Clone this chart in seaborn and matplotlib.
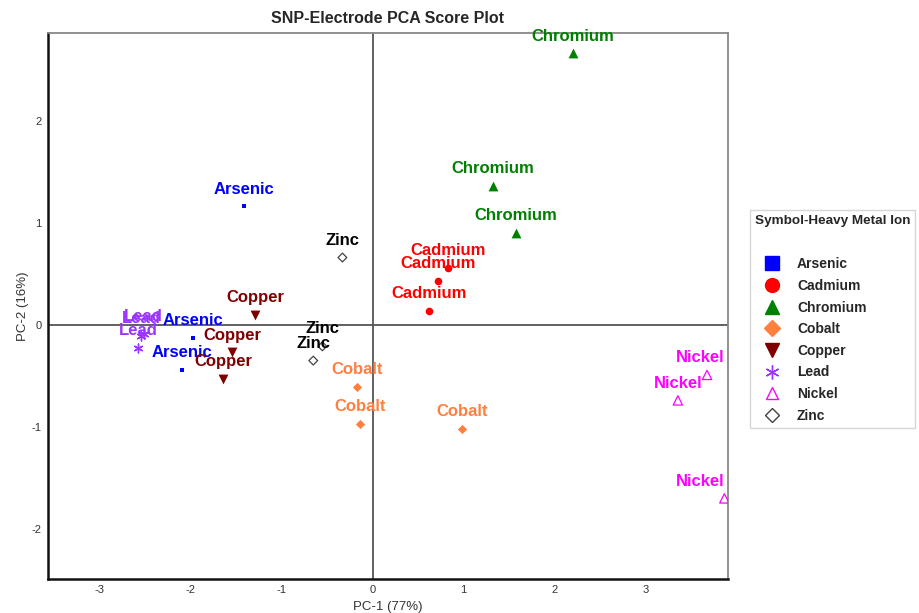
import matplotlib
matplotlib.use("Agg")
import matplotlib.pyplot as plt
from matplotlib.lines import Line2D
from matplotlib.ticker import MultipleLocator
import seaborn as sns
import pandas as pd

# ---- data ----
ions = ["Arsenic", "Cadmium", "Chromium", "Cobalt", "Copper", "Lead", "Nickel", "Zinc"]
arsenic_pc1 = [-1.41, -1.97, -2.09]
arsenic_pc2 = [1.16, -0.13, -0.44]
cadmium_pc1 = [0.83, 0.72, 0.62]
cadmium_pc2 = [0.56, 0.43, 0.14]
chromium_pc1 = [2.20, 1.32, 1.57]
chromium_pc2 = [2.66, 1.36, 0.90]
cobalt_pc1 = [-0.17, -0.14, 0.98]
cobalt_pc2 = [-0.61, -0.97, -1.02]
copper_pc1 = [-1.29, -1.54, -1.64]
copper_pc2 = [0.10, -0.27, -0.53]
lead_pc1 = [-2.57, -2.54, -2.51]
lead_pc2 = [-0.23, -0.11, -0.09]
nickel_pc1 = [3.67, 3.35, 3.86]
nickel_pc2 = [-0.49, -0.74, -1.70]
zinc_pc1 = [-0.33, -0.55, -0.65]
zinc_pc2 = [0.66, -0.21, -0.35]

pc1 = [arsenic_pc1, cadmium_pc1, chromium_pc1, cobalt_pc1, copper_pc1, lead_pc1, nickel_pc1, zinc_pc1]
pc2 = [arsenic_pc2, cadmium_pc2, chromium_pc2, cobalt_pc2, copper_pc2, lead_pc2, nickel_pc2, zinc_pc2]

rows = []
for name, xs, ys in zip(ions, pc1, pc2):
    for x, y in zip(xs, ys):
        rows.append({"ion": name, "pc1": x, "pc2": y})
df = pd.DataFrame(rows)

# ---- styles ----
colors = {"Arsenic": "#0000FF", "Cadmium": "#FF0000", "Chromium": "#008000",
          "Cobalt": "#FF7F3F", "Copper": "#800000", "Lead": "#9933FF",
          "Nickel": "#FF00FF", "Zinc": "#000000"}
markers = {"Arsenic": "s", "Cadmium": "o", "Chromium": "^", "Cobalt": "D",
           "Copper": "v", "Lead": (6, 2, 0), "Nickel": "^", "Zinc": "D"}
sizes = {"Arsenic": 12, "Cadmium": 30, "Chromium": 50, "Cobalt": 22,
         "Copper": 50, "Lead": 40, "Nickel": 45, "Zinc": 20}
open_m = {"Nickel", "Zinc"}

sns.set_theme(style="white")
plt.rcParams["font.family"] = ["Liberation Sans", "DejaVu Sans"]
plt.rcParams["axes.unicode_minus"] = False

fig = plt.figure(figsize=(9.2, 6.13), dpi=100)
ax = fig.add_axes([48 / 920, 1 - 579 / 613, 680 / 920, 546 / 613])

ax.axhline(0, color="#555555", lw=1.3, zorder=1)
ax.axvline(0, color="#555555", lw=1.3, zorder=1)

for name in ions:
    sub = df[df["ion"] == name]
    c = colors[name]
    lw = 0.9 if name in open_m else (1.0 if name == "Lead" else 0)
    ecol = "#444444" if name == "Zinc" else c
    sns.scatterplot(data=sub, x="pc1", y="pc2", marker=markers[name], s=sizes[name],
                    color=c, edgecolor=ecol, linewidth=lw, ax=ax, legend=False, zorder=3)
    if name in open_m:
        ax.collections[-1].set_facecolor("none")

ax.set_xlim(-3.56, 3.90)
ax.set_ylim(-2.49, 2.86)

texts = []
for _, r in df.iterrows():
    t = ax.annotate(r["ion"], (r["pc1"], r["pc2"]), xytext=(0, 12.5), textcoords="offset points",
                    ha="center", va="center", fontsize=12, fontweight="bold",
                    color=colors[r["ion"]], zorder=4)
    texts.append(t)

ax.xaxis.set_major_locator(MultipleLocator(1))
ax.xaxis.set_minor_locator(MultipleLocator(0.5))
ax.yaxis.set_major_locator(MultipleLocator(1))
ax.yaxis.set_minor_locator(MultipleLocator(0.5))
ax.tick_params(which="both", direction="out", length=3, width=0.8, color="#333333",
               labelsize=8, labelcolor="#333333", pad=1.5)

for side in ["left", "bottom"]:
    ax.spines[side].set_color("#111111")
    ax.spines[side].set_linewidth(1.8)
for side in ["top", "right"]:
    ax.spines[side].set_color("#888888")
    ax.spines[side].set_linewidth(1.3)

ax.set_xlabel("PC-1 (77%)", fontsize=9.5, color="#333333", labelpad=4)
ax.set_ylabel("PC-2 (16%)", fontsize=9.5, color="#333333", labelpad=2)
ax.set_title("SNP-Electrode PCA Score Plot", fontsize=11.5, fontweight="bold", pad=7)

# keep labels inside the plot frame
fig.canvas.draw()
renderer = fig.canvas.get_renderer()
axbb = ax.get_window_extent(renderer)
for t in texts:
    bb = t.get_window_extent(renderer)
    limit = axbb.x1 - 3
    if bb.x1 > limit:
        dx = (limit - bb.x1) * 72 / fig.dpi
        t.xyann = (t.xyann[0] + dx, t.xyann[1])

handles = []
for name in ions:
    c = colors[name]
    if name in open_m:
        ecol = "#444444" if name == "Zinc" else c
        h = Line2D([], [], linestyle="none", marker=markers[name], markersize=9 if name == "Nickel" else 7,
                   markerfacecolor="none", markeredgecolor=ecol, markeredgewidth=1.0)
    elif name == "Lead":
        h = Line2D([], [], linestyle="none", marker=markers[name], markersize=10,
                   color=c, markeredgewidth=1.0)
    else:
        ms = {"Arsenic": 10, "Cadmium": 10, "Chromium": 10, "Cobalt": 8, "Copper": 10}[name]
        h = Line2D([], [], linestyle="none", marker=markers[name], markersize=ms,
                   markerfacecolor=c, markeredgecolor=c)
    handles.append(h)

leg = fig.legend(handles, ions, loc="upper left", bbox_to_anchor=(750 / 920, 1 - 210 / 613),
                 borderaxespad=0, title="Symbol-Heavy Metal Ion\n", frameon=True, fancybox=False,
                 prop={"weight": "bold", "size": 10}, labelspacing=0.55,
                 handletextpad=0.57, borderpad=0.35, handlelength=2.46)
leg.get_title().set_fontweight("bold")
leg.get_title().set_fontsize(9.7)
leg.get_title().set_linespacing(2.2)
leg._legend_box.align = "left"
leg.get_frame().set_edgecolor("#cccccc")
leg.get_frame().set_linewidth(1.0)

fig.savefig("out.png", dpi=100)
